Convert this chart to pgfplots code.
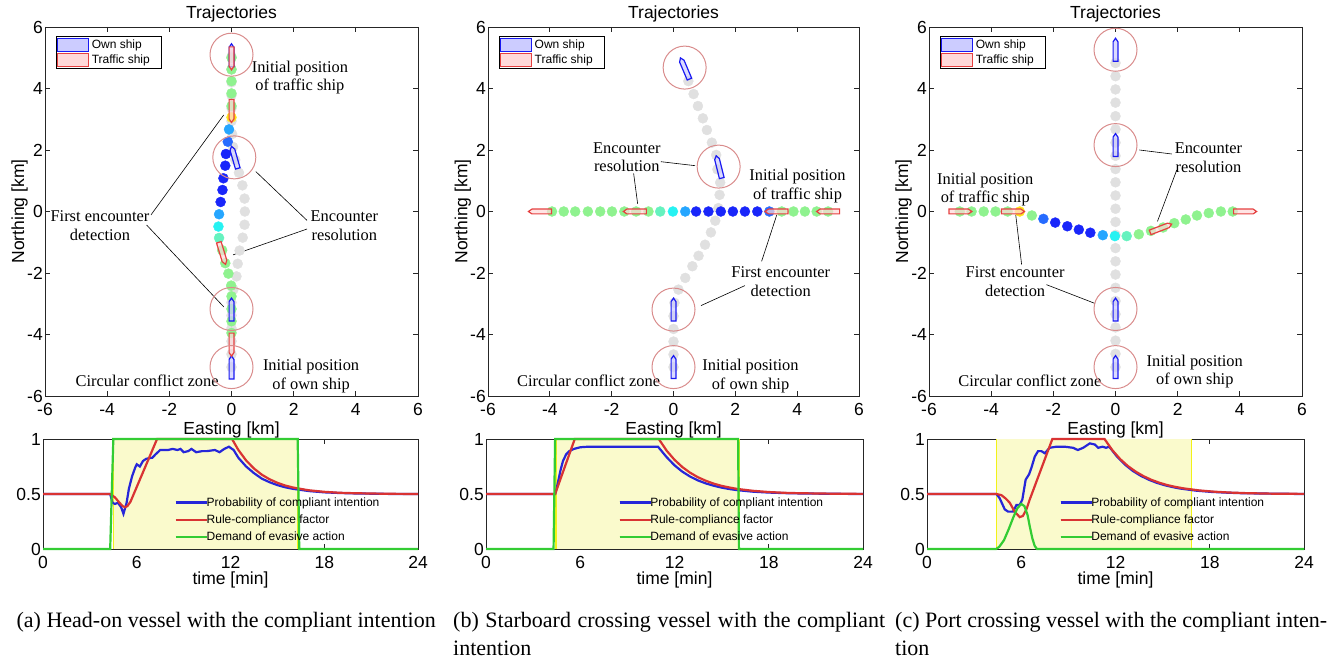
\documentclass[border=0pt]{standalone}
\usepackage{fontspec}
\setmainfont{Liberation Sans}
\newfontfamily\serifann{Liberation Serif}
\usepackage{pgfplots}
\pgfplotsset{compat=1.18}

\definecolor{cg}{rgb}{0.56,0.95,0.56}
\definecolor{cy}{rgb}{1,0.9,0.1}
\definecolor{cb1}{rgb}{0.15,0.65,1}
\definecolor{cb2}{rgb}{0.15,0.42,1}
\definecolor{cb3}{rgb}{0.1,0.15,0.98}
\definecolor{cc}{rgb}{0.15,0.95,0.95}
\definecolor{cgc}{rgb}{0.4,0.95,0.75}
\definecolor{cgray}{rgb}{0.88,0.88,0.88}
\definecolor{zone}{rgb}{0.85,0.55,0.55}
\definecolor{ownc}{rgb}{0.1,0.1,0.95}
\definecolor{ownf}{rgb}{0.8,0.8,1}
\definecolor{trc}{rgb}{0.9,0.25,0.25}
\definecolor{trf}{rgb}{1,0.85,0.85}
\definecolor{lblue}{rgb}{0.15,0.15,0.85}
\definecolor{lred}{rgb}{0.85,0.2,0.2}
\definecolor{lgreen}{rgb}{0.2,0.8,0.2}
\definecolor{shade}{rgb}{0.98,0.98,0.80}
\definecolor{ylw}{rgb}{0.95,0.95,0.1}

\pgfdeclareplotmark{ship}{%
  \pgfpathmoveto{\pgfqpoint{-11.5pt}{-2.4pt}}%
  \pgfpathlineto{\pgfqpoint{8pt}{-2.4pt}}%
  \pgfpathlineto{\pgfqpoint{11.5pt}{0pt}}%
  \pgfpathlineto{\pgfqpoint{8pt}{2.4pt}}%
  \pgfpathlineto{\pgfqpoint{-11.5pt}{2.4pt}}%
  \pgfpathclose
  \pgfusepathqfillstroke}

\newcommand\tickfont{\fontsize{17.5}{20}\selectfont}
\newcommand\legfont{\fontsize{12}{13}\selectfont}
\newcommand\annfont{\serifann\fontsize{16.4}{18.6}\selectfont}
\newcommand\capfont{\serifann\fontsize{22}{28}\selectfont}

\tikzset{
  lead/.style={black, line width=0.6pt},
  ann/.style={font=\annfont, align=center},
}

\pgfplotsset{
  /pgf/number format/assume math mode=true,
  every axis title/.style={at={(0.5,1.035)}, anchor=center, font=\tickfont},
  mbox/.style={scale only axis,
    axis line style={line width=0.8pt, black!85},
    every tick/.style={line width=0.8pt, black!85},
    tick align=inside, major tick length=5pt,
    tick label style={font=\tickfont},
    label style={font=\tickfont},
    xticklabel style={inner sep=2pt, yshift=-5pt},
    yticklabel style={inner sep=2pt},
  },
  traj/.style={mbox, width=#1, height=369pt,
    xmin=-6, xmax=6, ymin=-6, ymax=6,
    xtick={-6,-4,...,6}, ytick={-6,-4,...,6},
    title={Trajectories},
    xlabel={Easting [km]},
    xlabel style={at={(axis description cs:0.5,-0.092)}, anchor=center},
    ylabel={Northing [km]},
    ylabel style={at={(axis description cs:-0.068,0.5)}, anchor=center},
    legend style={at={(axis description cs:0.029,0.976)}, anchor=north west,
      font=\legfont, draw=black, line width=0.7pt, fill=white,
      inner sep=1pt, nodes={inner sep=2.4pt}, cells={anchor=west}},
    legend image code/.code={\draw[##1] (0pt,-6.5pt) rectangle (31pt,6.5pt);},
  },
  tim/.style={mbox, width=#1, height=110pt, clip=false,
    xmin=0, xmax=24, ymin=0, ymax=1,
    xtick={0,6,...,24}, ytick={0,0.5,1},
    xlabel={time [min]},
    xlabel style={at={(axis description cs:0.5,-0.285)}, anchor=center},
    legend style={at={(axis description cs:0.351,0.505)}, anchor=north west,
      font=\legfont, draw=none, fill=none, inner sep=0pt, nodes={inner sep=3.65pt}, cells={anchor=west}},
    legend image code/.code={\draw[##1, line width=2.2pt, overlay] (0pt,0pt) -- (31pt,0pt); \path (0pt,0pt) -- (26pt,0pt);},
  },
  dot/.style={only marks, mark=*, mark size=5pt, color=#1, forget plot},
  zonec/.style={only marks, mark=o, mark size=21.5pt, mark options={draw=zone, line width=1pt}, forget plot},
  own/.style={only marks, mark=ship, forget plot, mark options={draw=ownc, fill=ownf, fill opacity=0.7, line width=1.2pt, rotate=#1}},
  trf/.style={only marks, mark=ship, forget plot, mark options={draw=trc, fill=trf, fill opacity=0.7, line width=1.2pt, rotate=#1}},
  lb/.style={color=lblue, line width=2.2pt},
  lr/.style={color=lred, line width=2.2pt},
  lg/.style={color=lgreen, line width=2.2pt},
  shd/.style={fill=shade, draw=none, forget plot},
  yl/.style={color=ylw, line width=1.3pt, forget plot},
}

\newcommand\shiplegend{%
\addlegendimage{draw=ownc, fill=ownf, line width=1.2pt}
\addlegendentry{Own ship}
\addlegendimage{draw=trc, fill=trf, line width=1.2pt}
\addlegendentry{Traffic ship\hspace*{8pt}}
}

\begin{document}
\begin{tikzpicture}
\path[use as bounding box] (0pt,0pt) rectangle (1327pt,-658pt);

% ================= (a) trajectories =================
\begin{axis}[traj=373pt, at={(45pt,-27pt)}, anchor=north west]
\shiplegend
\addplot[dot=cgray] coordinates {(0,-5.06) (0,-4.64) (0,-4.22) (0,-3.80) (0,-3.38) (0,-2.96) (0.06,-2.54) (0.16,-2.11) (0.2,-1.70) (0.26,-1.27) (0.36,-0.85) (0.42,-0.43) (0.43,0.0) (0.42,0.42) (0.35,0.85) (0.24,1.26) (0.12,1.68) (0.05,2.1) (0.02,2.52) (0,2.94) (0,3.36) (0,3.78) (0,4.2) (0,4.62) (0,5.04)};
\addplot[dot=cg] coordinates {(0,5.0) (0,4.62) (0,4.24) (0,3.84) (0,3.43) (-0.30,-1.26) (-0.20,-1.68) (-0.10,-2.02) (-0.01,-2.41) (0,-2.76) (0,-3.17) (0,-3.57) (0,-3.95)};
\addplot[dot=cy] coordinates {(0,3.06)};
\addplot[dot=cb1] coordinates {(-0.08,2.67) (-0.40,-0.09)};
\addplot[dot=cb2] coordinates {(-0.12,2.27)};
\addplot[dot=cb3] coordinates {(-0.18,1.87) (-0.2,1.49) (-0.26,1.08) (-0.29,0.70) (-0.35,0.31)};
\addplot[dot=cc] coordinates {(-0.42,-0.49)};
\addplot[dot=cgc] coordinates {(-0.40,-0.86)};
\addplot[own=90] coordinates {(0,-5.07) (0,-3.19) (0,5.08)};
\addplot[own=106] coordinates {(0.1,1.76)};
\addplot[trf=-90] coordinates {(0,4.98) (0,3.27) (0,-4.33)};
\addplot[trf=-73] coordinates {(-0.30,-1.36)};
\addplot[zonec] coordinates {(0,5.10) (0.09,1.76) (0,-3.17) (0,-5.06)};
\draw[lead] (axis cs:-2.59,-0.11) -- (axis cs:-0.25,3.14);
\draw[lead] (axis cs:-2.73,-0.44) -- (axis cs:-0.25,-3.10);
\draw[lead] (axis cs:2.43,-0.29) -- (axis cs:0.78,1.30);
\draw[lead] (axis cs:2.43,-0.57) -- (axis cs:0.05,-1.41);
\node[ann] at (axis cs:2.2,4.36) {Initial position\\of traffic ship};
\node[ann] at (axis cs:-4.23,-0.46) {First encounter\\detection};
\node[ann] at (axis cs:3.63,-0.46) {Encounter\\resolution};
\node[ann, anchor=east] at (axis cs:-0.3,-5.51) {Circular conflict zone};
\node[ann] at (axis cs:2.56,-5.35) {Initial position\\of own ship};
\end{axis}

% ================= (b) trajectories =================
\begin{axis}[traj=371pt, at={(488pt,-27pt)}, anchor=north west]
\shiplegend
\addplot[dot=cgray] coordinates {(0,-5.06) (0,-4.65) (0,-4.23) (0,-3.82) (0,-3.40) (0.03,-2.97) (0.16,-2.54) (0.38,-2.16) (0.61,-1.78) (0.81,-1.44) (1.02,-1.08) (1.21,-0.68) (1.35,-0.30) (1.45,0.11) (1.49,0.54) (1.51,0.94) (1.42,1.37) (1.38,1.84) (1.24,2.24) (1.08,2.65) (0.95,3.03) (0.79,3.43) (0.65,3.82) (0.48,4.24)};
\addplot[dot=cg] coordinates {(5.0,0) (4.63,0) (4.25,0) (3.88,0) (3.50,0) (-0.81,0) (-1.21,0) (-1.59,0) (-1.99,0) (-2.37,0) (-2.77,0) (-3.18,0) (-3.55,0) (-3.93,0)};
\addplot[dot=cb2] coordinates {(3.10,0)};
\addplot[dot=cb3] coordinates {(2.71,0) (2.31,0) (1.92,0) (1.53,0) (1.13,0) (0.73,0)};
\addplot[dot=cb1] coordinates {(0.38,0)};
\addplot[dot=cc] coordinates {(-0.02,0)};
\addplot[dot=cgc] coordinates {(-0.43,0)};
\addplot[own=90] coordinates {(0,-5.06) (0,-3.19)};
\addplot[own=104] coordinates {(1.47,1.45)};
\addplot[own=113] coordinates {(0.37,4.65)};
\addplot[trf=180] coordinates {(5.0,0) (3.33,0) (-1.25,0) (-4.32,0)};
\addplot[zonec] coordinates {(0.36,4.68) (1.46,1.46) (0,-3.19) (0,-5.06)};
\draw[lead] (axis cs:-0.41,1.62) -- (axis cs:0.70,1.49);
\draw[lead] (axis cs:-1.29,1.24) -- (axis cs:-1.16,0.25);
\draw[lead] (axis cs:2.85,-1.62) -- (axis cs:3.34,-0.11);
\draw[lead] (axis cs:2.31,-2.41) -- (axis cs:0.89,-3.06);
\node[ann] at (axis cs:-1.51,1.77) {Encounter\\resolution};
\node[ann] at (axis cs:4.01,0.82) {Initial position\\of traffic ship};
\node[ann] at (axis cs:3.47,-2.28) {First encounter\\detection};
\node[ann, anchor=east] at (axis cs:-0.32,-5.51) {Circular conflict zone};
\node[ann] at (axis cs:2.49,-5.36) {Initial position\\of own ship};
\end{axis}

% ================= (c) trajectories =================
\begin{axis}[traj=373pt, at={(929pt,-27pt)}, anchor=north west]
\shiplegend
\addplot[dot=cgray] coordinates {(0,-5.06) (0,-4.63) (0,-4.20) (0,-3.77) (0,-3.34) (0,-2.91) (0,-2.48) (0,-2.05) (0,-1.62) (0,-1.19) (0,-0.76) (0,-0.34) (0,0.09) (0,0.52) (0,0.95) (0,1.38) (0,1.81) (0,2.24) (0,2.67) (0,3.10) (0,3.54) (0,3.97) (0,4.40) (0,4.83)};
\addplot[dot=cg] coordinates {(-5.01,0) (-4.63,0) (-4.24,0) (-3.86,0) (-3.47,0) (-2.69,-0.13) (0.75,-0.74) (1.14,-0.63) (1.53,-0.52) (1.89,-0.38) (2.26,-0.26) (2.62,-0.13) (3.0,-0.05) (3.39,0.0) (3.77,0)};
\addplot[dot=cy] coordinates {(-3.08,0)};
\addplot[dot=cb2] coordinates {(-2.32,-0.24)};
\addplot[dot=cb3] coordinates {(-1.94,-0.36) (-1.55,-0.48) (-1.18,-0.59) (-0.81,-0.69)};
\addplot[dot=cb1] coordinates {(-0.41,-0.77)};
\addplot[dot=cc] coordinates {(-0.02,-0.80)};
\addplot[dot=cgc] coordinates {(0.36,-0.80)};
\addplot[own=90] coordinates {(0,5.26) (0,2.16) (0,-3.19) (0,-5.06)};
\addplot[trf=0] coordinates {(-4.99,0) (-3.30,0) (4.17,0)};
\addplot[trf=21] coordinates {(1.46,-0.545)};
\addplot[zonec] coordinates {(0,5.26) (0,2.16) (0,-3.17) (0,-5.06)};
\draw[lead] (axis cs:1.81,1.87) -- (axis cs:0.77,2.0);
\draw[lead] (axis cs:1.97,1.35) -- (axis cs:1.35,-0.32);
\draw[lead] (axis cs:-3.02,-1.73) -- (axis cs:-3.21,-0.11);
\draw[lead] (axis cs:-2.22,-2.38) -- (axis cs:-0.66,-2.99);
\node[ann] at (axis cs:-4.19,0.72) {Initial position\\of traffic ship};
\node[ann] at (axis cs:2.99,1.75) {Encounter\\resolution};
\node[ann] at (axis cs:-3.23,-2.28) {First encounter\\detection};
\node[ann, anchor=east] at (axis cs:-0.34,-5.51) {Circular conflict zone};
\node[ann] at (axis cs:2.55,-5.2) {Initial position\\of own ship};
\end{axis}

% ================= (a) time =================
\begin{axis}[tim=375pt, at={(43pt,-439pt)}, anchor=north west]
\addplot[shd] coordinates {(4.5,0) (4.5,1) (16.3,1) (16.3,0)} -- cycle;
\addplot[yl] coordinates {(4.5,0) (4.5,1)};
\addplot[yl] coordinates {(16.3,0) (16.3,1)};
\addplot[lb] coordinates {(0,0.5) (4.3,0.5) (4.45,0.42) (4.6,0.41) (4.8,0.42) (5.0,0.38) (5.15,0.32) (5.35,0.42) (5.5,0.55) (5.7,0.66) (5.9,0.74) (6.0,0.77) (6.2,0.75) (6.4,0.80) (6.6,0.82) (7.0,0.83) (7.2,0.86) (7.5,0.90) (8.0,0.90) (8.3,0.91) (8.6,0.90) (8.8,0.91) (9.0,0.88) (9.3,0.89) (9.5,0.91) (9.8,0.88) (10.2,0.89) (10.5,0.89) (11.0,0.90) (11.3,0.88) (11.6,0.91) (11.9,0.93) (12.2,0.90) (12.5,0.83) (13,0.75) (13.5,0.69) (14,0.64) (14.5,0.607) (15,0.581) (15.5,0.561) (16,0.547) (17,0.527) (18,0.515) (19,0.509) (20,0.505) (22,0.501) (24,0.5)};
\addlegendentry{Probability of compliant intention}
\addplot[lr] coordinates {(0,0.5) (4.3,0.5) (4.6,0.47) (4.9,0.42) (5.1,0.39) (5.25,0.38) (5.4,0.39) (5.6,0.43) (7.3,1.0) (12.1,1.0) (12.5,0.901) (13,0.805) (13.5,0.732) (14,0.676) (14.5,0.634) (15,0.602) (15.5,0.577) (16,0.559) (17,0.534) (18,0.52) (19,0.511) (20,0.507) (22,0.502) (24,0.5)};
\addlegendentry{Rule-compliance factor}
\addplot[lg] coordinates {(0,0) (4.3,0) (4.5,1) (16.3,1) (16.4,0) (24,0)};
\addlegendentry{Demand of evasive action}
\end{axis}

% ================= (b) time =================
\begin{axis}[tim=377pt, at={(486pt,-439pt)}, anchor=north west]
\addplot[shd] coordinates {(4.45,0) (4.45,1) (16.1,1) (16.1,0)} -- cycle;
\addplot[yl] coordinates {(4.45,0) (4.45,1)};
\addplot[yl] coordinates {(16.1,0) (16.1,1)};
\addplot[lb] coordinates {(0,0.5) (4.4,0.5) (4.5,0.55) (4.6,0.62) (4.75,0.72) (4.9,0.80) (5.1,0.86) (5.3,0.89) (5.6,0.91) (6.0,0.925) (6.5,0.93) (10.95,0.93) (11.5,0.835) (12,0.761) (12.5,0.703) (13,0.658) (13.5,0.623) (14,0.596) (14.5,0.575) (15,0.558) (15.5,0.545) (16,0.535) (17,0.521) (18,0.513) (19,0.508) (20,0.505) (22,0.502) (24,0.5)};
\addlegendentry{Probability of compliant intention}
\addplot[lr] coordinates {(0,0.5) (4.4,0.5) (5.65,1.0) (11.0,1.0) (11.5,0.894) (12,0.811) (12.5,0.745) (13,0.693) (13.5,0.652) (14,0.620) (14.5,0.594) (15,0.574) (15.5,0.559) (16,0.546) (17,0.529) (18,0.518) (19,0.511) (20,0.507) (22,0.503) (24,0.501)};
\addlegendentry{Rule-compliance factor}
\addplot[lg] coordinates {(0,0) (4.3,0) (4.4,1) (16.05,1) (16.1,0) (24,0)};
\addlegendentry{Demand of evasive action}
\end{axis}

% ================= (c) time =================
\begin{axis}[tim=377pt, at={(927pt,-439pt)}, anchor=north west]
\addplot[shd] coordinates {(4.42,0) (4.42,1) (16.84,1) (16.84,0)} -- cycle;
\addplot[yl] coordinates {(4.42,0) (4.42,1)};
\addplot[yl] coordinates {(16.84,0) (16.84,1)};
\addplot[lb] coordinates {(0,0.5) (4.42,0.5) (4.63,0.46) (4.95,0.36) (5.16,0.34) (5.48,0.34) (5.69,0.40) (5.9,0.40) (6.07,0.45) (6.28,0.63) (6.5,0.68) (6.65,0.74) (6.86,0.84) (7.07,0.89) (7.28,0.89) (7.5,0.87) (7.8,0.92) (8.24,0.93) (8.77,0.93) (9.3,0.92) (9.6,0.90) (9.94,0.92) (10.36,0.96) (10.68,0.95) (10.9,0.92) (11.17,0.93) (11.4,0.92) (11.6,0.93) (12.1,0.839) (12.6,0.767) (13.1,0.710) (13.6,0.666) (14.1,0.631) (14.6,0.603) (15.1,0.581) (15.6,0.564) (16.1,0.55) (17.1,0.531) (18.1,0.519) (19.1,0.512) (20.1,0.507) (22,0.503) (24,0.5)};
\addlegendentry{Probability of compliant intention}
\addplot[lr] coordinates {(0,0.5) (4.42,0.5) (4.73,0.49) (5.0,0.46) (5.27,0.42) (5.58,0.34) (5.9,0.29) (6.1,0.30) (6.33,0.36) (6.54,0.45) (7.98,1.0) (11.3,1.0) (11.8,0.898) (12.3,0.817) (12.8,0.753) (13.3,0.702) (13.8,0.661) (14.3,0.628) (14.8,0.602) (15.3,0.581) (15.8,0.565) (16.3,0.552) (17.3,0.533) (18.3,0.521) (19.3,0.513) (20.3,0.508) (22,0.503) (24,0.501)};
\addlegendentry{Rule-compliance factor}
\addplot[lg] coordinates {(0,0) (4.4,0) (4.6,0.02) (4.9,0.08) (5.2,0.18) (5.5,0.29) (5.75,0.37) (6.0,0.41) (6.2,0.39) (6.4,0.31) (6.55,0.2) (6.7,0.1) (6.85,0.03) (7.0,0) (24,0)};
\addlegendentry{Demand of evasive action}
\end{axis}

% ================= captions =================
\node[anchor=base west, inner sep=0pt] at (10pt,-627pt) {\capfont\parbox[t]{432pt}{\centering (a) Head-on vessel with the compliant intention}};
\node[anchor=base west, inner sep=0pt] at (453pt,-627pt) {\capfont\parbox[t]{432pt}{(b) Starboard crossing vessel with the compliant\linebreak intention}};
\node[anchor=base west, inner sep=0pt] at (895pt,-627pt) {\capfont\parbox[t]{432pt}{(c) Port crossing vessel with the compliant inten-\linebreak tion}};
\end{tikzpicture}
\end{document}
